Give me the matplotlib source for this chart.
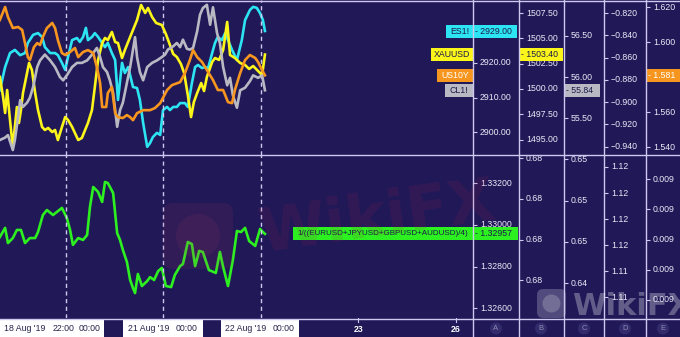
import matplotlib.pyplot as plt
from matplotlib.patches import Rectangle, FancyBboxPatch, Circle

plt.rcParams['font.family'] = ['Liberation Sans', 'DejaVu Sans']

# hours counted from 20 Aug '19 00:00 (trading time, weekend skipped)
es_hours = [-16.3, -15.0, -13.8, -12.6, -11.3, -10.1, -9.4, -8.1, -6.9, -5.9,
            -5.2, -3.9, -2.7, -2.0, -1.0, -0.2, 0.5, 1.5, 2.7, 3.4,
            4.2, 4.9, 5.4, 6.4, 7.1, 7.9, 8.9, 9.6, 10.3, 11.3,
            12.1, 12.8, 13.8, 14.5, 15.3, 16.5, 17.5, 18.2, 19.0, 20.0,
            20.7, 21.4, 22.4, 23.2, 23.9, 24.9, 25.6, 26.4, 27.3, 28.1,
            29.3, 30.0, 31.0, 31.8, 32.5, 33.5, 34.2, 35.0, 36.0, 36.7,
            37.4, 38.4, 39.2, 39.9, 40.9, 42.1, 43.3, 44.1, 45.3, 46.1,
            47.0, 47.8, 48.5, 49.0]
es_price = [2912.1, 2918.7, 2922.7, 2923.6, 2922.1, 2922.7, 2925.6, 2927.9, 2928.4, 2927.3,
            2924.4, 2922.7, 2922.7, 2922.1, 2919.9, 2917.9, 2921.6, 2926.4, 2927.0, 2925.9,
            2927.3, 2929.9, 2926.4, 2927.3, 2928.4, 2927.3, 2925.6, 2924.4, 2925.6, 2922.7,
            2920.7, 2909.3, 2919.9, 2917.0, 2918.7, 2913.0, 2912.7, 2909.3, 2902.7, 2895.9,
            2897.0, 2898.7, 2899.9, 2899.3, 2906.4, 2907.3, 2906.4, 2907.3, 2907.3, 2908.4,
            2908.4, 2907.3, 2914.1, 2918.7, 2919.3, 2918.4, 2918.7, 2918.4, 2922.7, 2925.6,
            2927.3, 2926.4, 2928.4, 2926.4, 2923.6, 2920.7, 2926.4, 2932.1, 2935.0, 2935.9,
            2935.6, 2934.1, 2932.1, 2929.0]

us10y_hours = [-16.3, -15.0, -14.3, -13.1, -11.8, -10.8, -10.1, -9.4, -8.9, -7.9,
               -7.1, -6.4, -5.7, -4.7, -3.4, -2.7, -2.0, -1.0, -0.2, 1.0,
               2.2, 3.0, 4.2, 5.4, 6.7, 7.6, 8.4, 8.9, 9.9, 10.3,
               11.3, 12.1, 12.8, 14.0, 15.0, 15.8, 16.5, 17.5, 19.0, 20.7,
               21.9, 23.2, 24.9, 26.1, 28.1, 29.3, 30.5, 31.3, 32.3, 33.5,
               34.7, 36.2, 37.4, 38.7, 39.9, 40.9, 41.6, 42.9, 44.1, 45.3,
               46.6, 47.3, 48.3, 49.0]
us10y_yield = [1.6126, 1.6200, 1.6143, 1.6080, 1.6086, 1.6069, 1.5994, 1.5914, 1.5897, 1.5971,
               1.5994, 1.5983, 1.6029, 1.6080, 1.6109, 1.6080, 1.6011, 1.5937, 1.5926, 1.5943,
               1.5966, 1.5914, 1.5943, 1.5954, 1.5937, 1.5857, 1.5766, 1.5629, 1.5629, 1.5709,
               1.5743, 1.5594, 1.5571, 1.5566, 1.5583, 1.5571, 1.5554, 1.5594, 1.5611, 1.5611,
               1.5623, 1.5651, 1.5726, 1.5754, 1.5771, 1.5823, 1.5897, 1.5954, 1.5914, 1.5886,
               1.5840, 1.5783, 1.5726, 1.5726, 1.5657, 1.5651, 1.5726, 1.5823, 1.5897, 1.5926,
               1.5909, 1.5886, 1.5840, 1.5810]

xau_hours = [-16.3, -15.5, -15.0, -14.5, -13.8, -13.1, -12.6, -12.1, -11.6, -11.1,
             -10.6, -9.6, -9.1, -8.4, -7.6, -6.9, -5.9, -5.2, -4.4, -3.4,
             -2.7, -2.0, -1.0, -0.2, 0.5, 1.5, 2.2, 3.0, 3.9, 4.7,
             5.4, 6.4, 7.1, 7.9, 8.9, 9.6, 10.3, 11.3, 12.1, 12.8,
             13.8, 14.5, 15.8, 16.5, 17.5, 18.5, 19.5, 20.2, 21.2, 22.2,
             23.6, 24.6, 25.6, 26.4, 27.3, 28.3, 29.1, 30.0, 30.8, 31.5,
             32.3, 33.3, 34.0, 34.7, 36.0, 36.7, 37.7, 38.7, 39.7, 40.4,
             41.6, 42.9, 44.1, 45.1, 46.1, 47.3, 48.3, 49.0]
xau_price = [1501.19, 1499.21, 1497.63, 1499.90, 1496.94, 1494.27, 1496.25, 1498.22, 1496.64, 1497.93,
             1499.60, 1501.58, 1502.57, 1501.88, 1499.60, 1497.93, 1496.25, 1495.95, 1496.15, 1495.75,
             1495.95, 1494.96, 1496.25, 1497.23, 1496.94, 1496.25, 1495.65, 1494.96, 1495.16, 1495.95,
             1496.64, 1497.93, 1500.20, 1502.87, 1504.54, 1505.04, 1504.84, 1505.63, 1504.64, 1504.54,
             1503.06, 1503.85, 1505.14, 1505.83, 1506.82, 1508.30, 1507.51, 1508.00, 1507.11, 1506.52,
             1506.32, 1505.43, 1504.35, 1503.46, 1503.16, 1502.47, 1501.58, 1499.41, 1497.23, 1498.72,
             1499.60, 1500.59, 1499.80, 1501.19, 1502.67, 1503.06, 1502.87, 1503.85, 1506.62, 1503.36,
             1503.06, 1502.57, 1502.37, 1501.98, 1502.27, 1501.78, 1501.38, 1503.40]

cl_hours = [-16.3, -15.0, -14.3, -13.1, -12.6, -11.8, -11.3, -10.6, -9.6, -8.9,
            -8.1, -7.1, -6.4, -5.2, -3.9, -2.7, -1.5, -0.7, 0.2, 1.5,
            2.7, 3.9, 5.2, 6.4, 7.6, 8.4, 9.1, 10.1, 10.8, 11.6,
            12.6, 13.3, 14.0, 15.0, 15.8, 16.5, 17.0, 17.5, 18.2, 19.0,
            20.0, 21.2, 22.4, 23.6, 24.4, 25.1, 26.4, 27.3, 28.1, 28.8,
            29.8, 30.5, 31.3, 32.3, 33.0, 33.7, 34.7, 35.5, 36.2, 37.2,
            37.9, 38.7, 39.7, 40.4, 41.1, 42.1, 42.9, 44.1, 45.3, 46.1,
            47.3, 48.3, 49.0]
cl_price = [55.24, 55.27, 55.30, 55.12, 55.24, 55.52, 55.72, 55.64, 55.69, 55.75,
            55.88, 56.12, 56.20, 56.27, 56.20, 56.12, 56.00, 55.96, 56.02, 56.12,
            56.17, 56.17, 56.20, 56.27, 56.35, 56.24, 56.12, 56.06, 55.96, 55.81,
            55.40, 55.60, 55.69, 55.93, 56.12, 56.33, 56.48, 56.24, 56.06, 55.96,
            56.12, 56.17, 56.20, 56.24, 56.27, 56.33, 56.37, 56.41, 56.36, 56.45,
            56.34, 56.33, 56.35, 56.55, 56.75, 56.83, 56.87, 56.63, 56.84, 56.53,
            56.41, 56.12, 55.90, 55.99, 55.78, 55.63, 55.84, 55.87, 55.95, 56.02,
            55.99, 56.02, 55.84]

usd_hours = [-16.3, -15.0, -14.3, -13.1, -12.1, -11.1, -10.1, -8.9, -7.6, -6.9,
             -5.7, -4.7, -3.2, -1.0, 0.2, 1.0, 1.7, 3.0, 4.2, 5.2,
             5.9, 6.7, 7.9, 8.9, 9.6, 10.3, 11.6, 12.6, 13.3, 14.0,
             15.0, 15.8, 16.5, 17.0, 17.7, 18.7, 20.0, 20.7, 21.7, 22.7,
             23.6, 24.6, 25.9, 26.8, 28.1, 28.8, 30.0, 31.0, 31.8, 32.8,
             33.7, 35.2, 36.9, 37.9, 38.7, 39.9, 41.1, 42.1, 43.1, 44.1,
             45.1, 46.6, 47.8, 48.5, 49.0]
usd_index = [1.32942, 1.32986, 1.32913, 1.32937, 1.32976, 1.32976, 1.32913, 1.32937, 1.32937, 1.32966,
             1.33048, 1.33072, 1.33048, 1.33082, 1.33034, 1.32976, 1.32904, 1.32937, 1.32928, 1.32952,
             1.33087, 1.33183, 1.33159, 1.33111, 1.33207, 1.33202, 1.33154, 1.32961, 1.32928, 1.32880,
             1.32822, 1.32735, 1.32696, 1.32672, 1.32764, 1.32706, 1.32730, 1.32749, 1.32735, 1.32778,
             1.32793, 1.32706, 1.32701, 1.32759, 1.32802, 1.32812, 1.32918, 1.32908, 1.32802, 1.32875,
             1.32870, 1.32783, 1.32769, 1.32870, 1.32798, 1.32706, 1.32831, 1.32971, 1.32966, 1.32986,
             1.32923, 1.32899, 1.32981, 1.32966, 1.32957]

day_lines = [0, 24, 48]
day_ticks = [72, 96]
day_tick_labels = ['23', '26']

# price scales of the right-hand columns: (limits, ticks, format)
# (2930.00 and 1.580 sit under the last-value tags, so they are left out)
top_scales = [((2893.57, 2937.86), [2900, 2910, 2920], '{:.2f}'),
              ((1493.48, 1508.79), [1495, 1497.5, 1500, 1502.5, 1505, 1507.5], '{:.2f}'),
              ((55.060, 56.928), [55.5, 56.0, 56.5], '{:.2f}'),
              ((-0.9474, -0.8083), [-0.94, -0.92, -0.90, -0.88, -0.86, -0.84, -0.82], '{:.3f}'),
              ((1.5355, 1.6240), [1.54, 1.56, 1.60, 1.62], '{:.3f}')]
low_scales = [((1.32552, 1.33337), [1.326, 1.328, 1.330, 1.332], '{:.5f}'),
              ((0.67683, 0.67843), [0.6772, 0.6776, 0.6780, 0.6784], '{:.2f}'),
              ((0.64438, 0.64635), [0.6448, 0.6453, 0.6458, 0.6463], '{:.2f}'),
              ((1.11390, 1.11703), [1.1143, 1.1148, 1.1153, 1.1158, 1.1163, 1.1168], '{:.2f}'),
              ((0.0093870, 0.0094140), [0.009390, 0.009395, 0.009400, 0.009405, 0.009410], '{:.3f}')]

W, H = 680, 337
BG = '#211858'
SEP = '#cfc8ee'
TXT = '#ebe9f6'
NAVY = '#1b1a4a'
CYAN, YELLOW, ORANGE, GREY, GREEN = '#2ce4f2', '#fbf51a', '#f7961e', '#b9b9c4', '#2cf01f'
FS = 6.3

XLIM = (-16.26, 100.25)
TOP = (0, 155)
LOW = (155, 318)
COLS = [(473, 519), (519, 564), (564, 604), (604, 646), (646, 680)]


def rect(x0, y0, x1, y1):
    return [x0 / W, 1 - y1 / H, (x1 - x0) / W, (y1 - y0) / H]


fig = plt.figure(figsize=(W / 100, H / 100), dpi=100, facecolor=BG)


def pane_axes(pane, ylim, name):
    ax = fig.add_axes(rect(0, pane[0], 473, pane[1]), label=name)
    ax.set_xlim(XLIM)
    ax.set_ylim(ylim)
    ax.axis('off')
    return ax


def column(pane, col, scale, name):
    ylim, ticks, fmt = scale
    x0, x1 = col
    ax = fig.add_axes(rect(x0, pane[0], x1, pane[1]), label=name)
    ax.set_xlim(0, 1)
    ax.set_ylim(ylim)
    for s in ax.spines.values():
        s.set_visible(False)
    ax.patch.set_visible(False)
    ax.set_xticks([])
    ax.set_yticks(ticks)
    ax.tick_params(axis='y', direction='in', length=3, width=0.8, color=SEP, labelleft=False)
    for t in ticks:
        ax.text(7 / (x1 - x0), t, fmt.format(t).replace('-', '\u2212'), transform=ax.get_yaxis_transform(),
                color=TXT, fontsize=FS, ha='left', va='center', clip_on=True)
    return ax


def tag(ax, value, text, color, x0, x1, pane_h, tcolor=NAVY, tx=None, ha='center', fs=FS):
    lo, hi = ax.get_ylim()
    h = 13 / pane_h * (hi - lo)
    tr = ax.get_yaxis_transform()
    ax.add_patch(Rectangle((x0, value - h / 2), x1 - x0, h, transform=tr, facecolor=color,
                           edgecolor='none', clip_on=False, zorder=5))
    if tx is None:
        tx = (x0 + x1) / 2
    ax.text(tx, value, text, transform=tr, color=tcolor, fontsize=fs, ha=ha, va='center',
            zorder=6, clip_on=False)


# --- upper pane: four comparison series, each on its own scale
ax_es = pane_axes(TOP, top_scales[0][0], 'es')
ax_xau = pane_axes(TOP, top_scales[1][0], 'xau')
ax_cl = pane_axes(TOP, top_scales[2][0], 'cl')
ax_us = pane_axes(TOP, top_scales[4][0], 'us10y')
lw = 1.9
ax_cl.plot(cl_hours, cl_price, color=GREY, lw=lw, solid_joinstyle='round')
ax_us.plot(us10y_hours, us10y_yield, color=ORANGE, lw=lw, solid_joinstyle='round')
ax_es.plot(es_hours, es_price, color=CYAN, lw=lw, solid_joinstyle='round')
ax_xau.plot(xau_hours, xau_price, color=YELLOW, lw=lw, solid_joinstyle='round')
for h in day_lines:
    ax_es.axvline(h, color=SEP, lw=1, ls=(0, (3, 2.5)))

# --- lower pane: 1/((EURUSD+JPYUSD+GBPUSD+AUDUSD)/4)
ax_usd = pane_axes(LOW, low_scales[0][0], 'usd')
ax_usd.plot(usd_hours, usd_index, color=GREEN, lw=lw, solid_joinstyle='round')
for h in day_lines:
    ax_usd.axvline(h, color=SEP, lw=1, ls=(0, (3, 2.5)))

# --- price columns
tops = [column(TOP, c, s, 'top%d' % i) for i, (c, s) in enumerate(zip(COLS, top_scales))]
lows = [column(LOW, c, s, 'low%d' % i) for i, (c, s) in enumerate(zip(COLS, low_scales))]

# name tags on the plot edge, value tags in the columns
tag(ax_es, es_price[-1], 'ES1!', CYAN, 446 / 473, 1, 155)
tag(ax_xau, xau_price[-1], 'XAUUSD', YELLOW, 431 / 473, 1, 155)
tag(ax_us, us10y_yield[-1], 'US10Y', ORANGE, 437 / 473, 1, 155, tcolor='white')
tag(ax_cl, cl_price[-1], 'CL1!', GREY, 445 / 473, 1, 155)
tag(ax_usd, usd_index[-1], '1/((EURUSD+JPYUSD+GBPUSD+AUDUSD)/4)', GREEN, 293 / 473, 1, 163, fs=5.8)

tag(tops[0], es_price[-1], '- ' + '{:.2f}'.format(es_price[-1]), CYAN, 0, 44 / 46, 155, tx=2 / 46, ha='left')
tag(tops[1], xau_price[-1], '- ' + '{:.2f}'.format(xau_price[-1]), YELLOW, 0, 44 / 45, 155, tx=2 / 45, ha='left')
tag(tops[2], cl_price[-1], '- ' + '{:.2f}'.format(cl_price[-1]), GREY, 0, 36 / 40, 155, tx=2 / 40, ha='left')
tag(tops[4], us10y_yield[-1], '- ' + '{:.3f}'.format(us10y_yield[-1]), ORANGE, 0, 1, 155,
    tcolor='white', tx=2 / 34, ha='left')
tag(lows[0], usd_index[-1], '- ' + '{:.5f}'.format(usd_index[-1]), GREEN, 0, 45 / 46, 163, tx=2 / 46, ha='left')

# --- time axis strip
ax_t = fig.add_axes(rect(0, 318, 473, 337), label='time')
ax_t.set_xlim(XLIM)
ax_t.set_ylim(0, 1)
ax_t.axis('off')
for h, lab in zip(day_ticks, day_tick_labels):
    ax_t.plot([h, h], [1, 0.8], color=SEP, lw=0.8)
    ax_t.text(h, 0.42, lab, color='white', fontsize=FS, fontweight='bold', ha='center', va='center')

# --- frame, separators, date boxes, watermarks (pixel layout)
ov = fig.add_axes([0, 0, 1, 1], label='overlay')
ov.set_xlim(0, W)
ov.set_ylim(H, 0)
ov.axis('off')
ov.set_zorder(10)

for x in (473, 519, 564, 604, 646):
    ov.plot([x, x], [0, H], color=SEP, lw=1)
for y in (0.5, 155, 318.5):
    ov.plot([0, W], [y, y], color=SEP, lw=1)

for x0, x1 in ((0, 104), (123, 203), (221, 299)):
    ov.add_patch(Rectangle((x0, 319.5), x1 - x0, 18, facecolor='white', edgecolor='none'))
for x, lab in ((25, "18 Aug '19"), (64, '22:00'), (90, '00:00'), (149, "21 Aug '19"), (187, '00:00'),
               (246, "22 Aug '19"), (284, '00:00')):
    ov.text(x, 328.5, lab, color='#26244a', fontsize=FS, ha='center', va='center')

for x, lab in ((496, 'A'), (541, 'B'), (584, 'C'), (625, 'D'), (663, 'E')):
    ov.add_patch(Circle((x, 328.5), 6, facecolor='#322b6c', edgecolor='none'))
    ov.text(x, 328.8, lab, color='#8f8bb5', fontsize=5.5, ha='center', va='center')

# faint red watermark in the lower pane
ov.add_patch(FancyBboxPatch((163, 203), 70, 66, boxstyle='round,pad=0,rounding_size=10',
                            facecolor='#b04060', edgecolor='none', alpha=0.12))
ov.add_patch(Circle((198, 236), 22, facecolor='#b04060', edgecolor='none', alpha=0.1))
ov.text(255, 252, 'WikiFX', color='#b02848', alpha=0.12, fontsize=44, fontweight='bold',
        rotation=8, ha='left', va='baseline', family='DejaVu Sans')

# light watermark bottom right
ov.add_patch(FancyBboxPatch((537, 289), 29, 29, boxstyle='round,pad=0,rounding_size=6',
                            facecolor='white', edgecolor='none', alpha=0.22))
ov.add_patch(Circle((551.5, 303.5), 9, facecolor='white', edgecolor='none', alpha=0.2))
ov.text(572, 315, 'WikiFX', color='white', alpha=0.3, fontsize=22, fontweight='bold',
        ha='left', va='baseline', family='DejaVu Sans')

fig.savefig('out.png', dpi=100, facecolor=BG)
